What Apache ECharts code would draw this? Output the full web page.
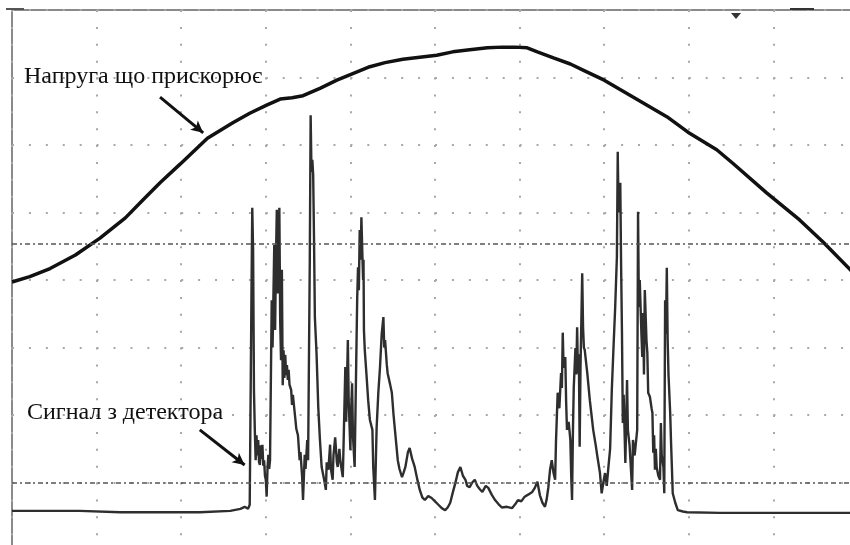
<!DOCTYPE html>
<html>
<head>
<meta charset="utf-8">
<script src="https://cdn.jsdelivr.net/npm/echarts@6/dist/echarts.min.js"></script>
<style>
html,body{margin:0;padding:0;background:#fff;}
#chart{width:850px;height:545px;}
</style>
</head>
<body>
<div id="chart"></div>
<script>
// Oscilloscope screen: x in horizontal divisions (0..10), y in vertical divisions (0..8)
var xDivisions = [0, 10];
var yDivisions = [0, 8];

// Accelerating voltage (smooth curve)
var voltagePoints = [
  [0,3.97],[0.21,4.05],[0.45,4.17],[0.75,4.37],[1.04,4.62],[1.34,4.92],[1.55,5.19],
  [1.75,5.44],[1.99,5.72],[2.31,6.10],[2.61,6.33],[2.81,6.47],[3.01,6.59],[3.17,6.68],
  [3.31,6.70],[3.44,6.73],[3.64,6.84],[3.84,6.96],[4.05,7.07],[4.23,7.16],[4.41,7.22],
  [4.62,7.27],[4.82,7.30],[5.02,7.33],[5.21,7.38],[5.41,7.41],[5.62,7.44],[5.80,7.45],
  [5.95,7.45],[6.09,7.44],[6.21,7.38],[6.40,7.29],[6.60,7.20],[6.75,7.11],[7.00,6.96],
  [7.34,6.71],[7.74,6.42],[7.99,6.19],[8.33,5.93],[8.52,5.73],[8.92,5.29],[9.31,4.89],
  [9.59,4.56],[9.91,4.15],[10,4.03]
];

// Detector signal
var signalPoints = [
  [0,0.58],[0.33,0.58],[0.80,0.58],[1.28,0.56],[1.75,0.56],[2.22,0.56],[2.58,0.58],[2.70,0.61],[2.75,0.64],[2.79,0.61],[2.81,0.67],
  [2.83,3.70],[2.84,5.07],[2.85,4.44],[2.86,2.37],[2.87,1.78],[2.88,1.33],[2.89,1.70],[2.90,1.40],[2.91,1.63],[2.92,1.30],[2.93,1.26],[2.94,1.55],[2.95,1.35],[2.96,1.56],
  [2.97,1.25],[2.98,1.33],[2.99,1.10],[3.00,1.04],[3.01,0.79],[3.02,1.20],[3.03,1.41],[3.04,1.20],[3.05,1.33],
  [3.07,3.70],[3.08,3.00],[3.10,4.52],[3.11,3.26],[3.12,4.30],[3.13,5.04],[3.14,3.80],[3.16,5.07],[3.17,3.41],[3.18,2.81],[3.19,4.15],[3.20,2.44],[3.21,2.96],[3.22,2.55],
  [3.23,2.89],[3.24,2.59],[3.25,2.74],[3.26,2.52],[3.27,2.67],[3.28,2.45],[3.30,2.37],[3.31,2.15],[3.32,2.30],
  [3.35,1.93],[3.36,1.80],[3.38,1.70],[3.40,1.33],[3.41,1.45],[3.43,1.07],[3.44,0.74],[3.46,1.41],[3.47,1.20],[3.49,1.63],[3.50,1.33],[3.52,4.30],[3.53,6.44],[3.54,5.60],[3.55,5.78],[3.56,5.56],[3.57,4.60],[3.58,3.45],[3.60,2.90],[3.61,2.52],
  [3.62,2.12],[3.64,1.63],[3.66,1.23],[3.69,1.04],[3.71,0.89],[3.72,1.30],[3.74,1.19],[3.76,1.56],[3.77,1.20],[3.79,1.04],[3.80,1.40],[3.82,1.67],[3.84,1.30],[3.85,1.23],[3.87,1.50],[3.88,1.33],[3.91,1.08],[3.92,1.60],[3.94,2.71],[3.95,1.90],[3.97,3.11],
  [3.98,2.20],[4.00,1.48],[4.01,2.10],[4.02,2.47],[4.03,1.70],[4.05,1.23],[4.08,3.70],[4.09,4.19],[4.10,3.85],[4.11,4.74],[4.12,4.30],[4.13,4.93],[4.14,4.45],[4.15,4.00],[4.155,4.30],[4.16,3.26],[4.17,2.96],[4.19,2.60],[4.21,2.22],[4.23,1.93],[4.26,1.78],[4.27,1.23],
  [4.29,0.74],[4.31,1.81],[4.33,2.33],[4.35,2.71],[4.37,3.20],[4.39,3.45],[4.40,3.00],[4.41,3.11],[4.43,2.75],[4.44,2.62],[4.47,2.45],[4.49,2.33],[4.51,2.00],[4.53,1.73],[4.56,1.33],[4.58,1.20],[4.61,1.08],[4.63,1.15],[4.65,1.23],[4.68,1.45],[4.70,1.51],[4.73,1.35],[4.76,1.23],
  [4.79,1.05],[4.82,0.89],[4.85,0.78],[4.88,0.74],[4.92,0.80],[4.96,0.77],[5.00,0.72],[5.04,0.67],[5.08,0.62],[5.12,0.59],[5.15,0.63],[5.18,0.70],[5.21,0.85],[5.24,0.99],[5.27,1.15],[5.30,1.23],[5.33,1.10],[5.36,1.04],[5.38,0.95],[5.41,0.93],[5.44,1.00],[5.47,1.04],[5.50,0.95],[5.53,0.90],[5.56,0.86],[5.60,0.95],[5.63,0.92],[5.67,0.82],[5.71,0.74],
  [5.75,0.68],[5.79,0.63],[5.85,0.64],[5.91,0.62],[5.95,0.68],[5.98,0.74],[6.02,0.72],[6.06,0.79],[6.10,0.82],[6.15,0.86],[6.18,0.92],[6.21,1.01],[6.24,0.81],[6.27,0.70],[6.30,0.64],[6.32,0.75],[6.34,0.93],[6.36,1.19],[6.38,1.33],[6.40,1.15],[6.42,1.04],[6.43,1.60],[6.45,2.33],[6.47,2.10],[6.49,2.62],
  [6.50,2.40],[6.51,3.22],[6.52,2.70],[6.54,2.86],[6.55,2.20],[6.56,1.78],[6.58,1.90],[6.60,1.63],[6.61,1.10],[6.62,0.74],[6.63,1.73],[6.64,2.40],[6.66,2.99],[6.67,2.60],[6.68,3.30],[6.69,2.62],[6.70,2.90],[6.71,1.53],[6.72,2.70],[6.74,4.10],[6.75,3.30],[6.76,3.00],[6.77,2.96],[6.80,2.62],
  [6.83,2.22],[6.85,2.00],[6.87,1.78],[6.90,1.55],[6.92,1.38],[6.95,1.14],[6.97,0.84],[6.99,1.00],[7.01,1.14],[7.03,0.95],[7.05,1.23],[7.07,1.50],[7.09,2.37],[7.11,3.00],[7.13,3.60],[7.15,4.34],[7.16,5.90],[7.17,5.00],[7.19,5.44],[7.20,4.20],[7.21,3.22],[7.22,1.88],
  [7.23,2.30],[7.25,1.29],[7.26,1.90],[7.27,2.52],[7.28,1.78],[7.30,1.55],[7.31,1.33],[7.33,0.89],[7.34,1.63],[7.36,1.40],[7.39,1.78],[7.40,5.01],[7.41,3.60],[7.42,4.00],[7.44,3.20],[7.45,2.86],[7.46,3.51],[7.47,2.60],[7.48,3.85],[7.50,3.10],[7.51,2.92],[7.52,2.33],
  [7.54,2.27],[7.56,2.10],[7.57,2.03],[7.58,1.44],[7.59,1.70],[7.60,1.19],[7.61,1.50],[7.62,1.23],[7.64,1.10],[7.66,1.04],[7.67,1.88],[7.68,1.40],[7.70,1.23],[7.71,0.84],[7.72,3.70],[7.73,3.20],[7.74,4.18],[7.75,3.11],[7.76,2.60],[7.78,2.03],[7.79,1.60],[7.80,1.23],
  [7.81,0.84],[7.84,0.70],[7.87,0.59],[7.93,0.57],[7.98,0.56],[8.37,0.55],[9.08,0.55],[9.91,0.55],[10,0.55]
];

// Cursor levels (horizontal marker lines)
var cursorLevels = [4.53, 1.0];

// Annotation labels and arrows (in division units)
var labels = ['Напруга що прискорює', 'Сигнал з детектора'];
var arrowVoltage = [[1.75, 6.71], [2.26, 6.18]];
var arrowSignal = [[2.22, 1.78], [2.75, 1.26]];

var chart = echarts.init(document.getElementById('chart'), null, {renderer: 'canvas'});

var dotH = [2, 14.92];
var dotV = [2, 14.875];

chart.setOption({
  backgroundColor: '#ffffff',
  animation: false,
  grid: {left: 12, top: 10, width: 846, height: 540, outerBoundsMode: 'none', containLabel: false,
         show: true, borderColor: '#8a8a8a', borderWidth: 2, backgroundColor: 'transparent'},
  xAxis: {
    type: 'value', min: xDivisions[0], max: xDivisions[1], interval: 1,
    axisLabel: {show: false}, axisTick: {show: false}, axisLine: {show: false},
    splitLine: {show: true, lineStyle: {color: '#a8a8a8', width: 2, type: dotV}}
  },
  yAxis: {
    type: 'value', min: yDivisions[0], max: yDivisions[1], interval: 1,
    axisLabel: {show: false}, axisTick: {show: false}, axisLine: {show: false},
    splitLine: {show: true, lineStyle: {color: '#a8a8a8', width: 2, type: dotH}}
  },
  series: [
    {
      type: 'line', data: signalPoints, showSymbol: false, symbol: 'none',
      lineStyle: {color: '#2e2e2e', width: 2.4},
      z: 3,
      markLine: {
        silent: true, symbol: 'none', label: {show: false},
        lineStyle: {color: '#555', width: 1.5, type: [5, 3, 2, 3]},
        data: cursorLevels.map(function (v) { return {yAxis: v}; })
      }
    },
    {
      type: 'line', data: voltagePoints, showSymbol: false, symbol: 'none',
      lineStyle: {color: '#111', width: 3.5},
      z: 4,
      markLine: {
        silent: true, symbol: ['none', 'arrow'], symbolSize: [9, 12], label: {show: false},
        lineStyle: {color: '#111', width: 3, type: 'solid'},
        data: [
          [{coord: arrowVoltage[0]}, {coord: arrowVoltage[1]}],
          [{coord: arrowSignal[0]}, {coord: arrowSignal[1]}]
        ]
      }
    }
  ],
  graphic: [
    {type: 'text', left: 24, top: 65, z: 10, style: {text: labels[0], font: '24px "Liberation Serif"', fill: '#111'}},
    {type: 'text', left: 27, top: 401, z: 10, style: {text: labels[1], font: '24px "Liberation Serif"', fill: '#111'}},
    {type: 'polygon', z: 10, shape: {points: [[731, 13], [741, 13], [736, 19]]}, style: {fill: '#333'}},
    {type: 'rect', z: 10, shape: {x: 790, y: 8, width: 24, height: 2}, style: {fill: '#333'}},
    {type: 'rect', z: 10, shape: {x: 6, y: 8, width: 18, height: 2}, style: {fill: '#555'}}
  ]
});
</script>
</body>
</html>
